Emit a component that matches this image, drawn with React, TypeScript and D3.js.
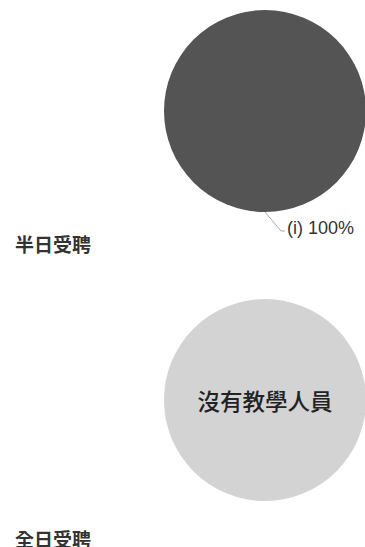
import { useEffect, useRef } from 'react';
import * as d3 from 'd3';

const W = 365;
const H = 547;

// 半日受聘
const halfDayLabels = ['(i)'];
const halfDayValues = [100];

// 全日受聘 (no data)
const fullDayLabels: string[] = [];
const fullDayValues: number[] = [];

const groupTitles = ['半日受聘', '全日受聘'];
const emptyText = '沒有教學人員';

const sliceColors = ['#545454'];
const emptyColor = '#d3d3d3';

const FONT = '"Noto Sans CJK TC", "Noto Sans", sans-serif';

export default function App() {
  const svgRef = useRef<SVGSVGElement>(null);

  useEffect(() => {
    if (!svgRef.current) return;
    const svg = d3.select(svgRef.current);
    svg.selectAll('*').remove();

    const r = 101;
    const cx = 265;
    const groups = [
      { title: groupTitles[0], labels: halfDayLabels, values: halfDayValues, cy: 111, titleY: 243 },
      { title: groupTitles[1], labels: fullDayLabels, values: fullDayValues, cy: 400, titleY: 538 },
    ];

    const pie = d3.pie<number>().sort(null).value((d) => d);
    const arc = d3.arc<d3.PieArcDatum<number>>().innerRadius(0).outerRadius(r);

    groups.forEach((grp) => {
      const g = svg.append('g').attr('transform', `translate(${cx},${grp.cy})`);

      if (grp.values.length === 0) {
        // Placeholder circle when there is no data
        g.append('circle').attr('r', r).attr('fill', emptyColor);
        g.append('text')
          .attr('text-anchor', 'middle')
          .attr('dominant-baseline', 'central')
          .attr('font-family', FONT)
          .attr('font-size', '22.5px')
          .attr('font-weight', 500)
          .attr('fill', '#222')
          .text(emptyText);
      } else {
        const arcs = pie(grp.values);
        const total = d3.sum(grp.values);
        g.selectAll('path.slice')
          .data(arcs)
          .enter()
          .append('path')
          .attr('class', 'slice')
          .attr('d', arc)
          .attr('fill', (_d, i) => sliceColors[i % sliceColors.length]);

        // Leader lines + labels
        arcs.forEach((a, i) => {
          const mid = (a.startAngle + a.endAngle) / 2;
          const x0 = Math.sin(mid) * r;
          const y0 = -Math.cos(mid) * r;
          const x1 = x0 + 16;
          const y1 = y0 + 19;
          const x2 = x1 + 4;
          g.append('path')
            .attr('d', `M${x0},${y0}L${x1},${y1}L${x2},${y1}`)
            .attr('fill', 'none')
            .attr('stroke', '#aaa')
            .attr('stroke-width', 1);
          g.append('text')
            .attr('x', x2 + 2)
            .attr('y', y1 + 3)
            .attr('font-family', '"Liberation Sans", Arial, sans-serif')
            .attr('font-size', '18px')
            .attr('fill', '#333')
            .text(`${grp.labels[i]} ${d3.format('.0f')((a.data / total) * 100)}%`);
        });
      }

      svg
        .append('text')
        .attr('x', 15)
        .attr('y', grp.titleY)
        .attr('dominant-baseline', 'central')
        .attr('font-family', FONT)
        .attr('font-size', '19px')
        .attr('font-weight', 'bold')
        .attr('fill', '#333')
        .text(grp.title);
    });
  }, []);

  return (
    <svg
      ref={svgRef}
      width={W}
      height={H}
      style={{ position: 'absolute', left: 0, top: 0, background: '#fff' }}
    />
  );
}
